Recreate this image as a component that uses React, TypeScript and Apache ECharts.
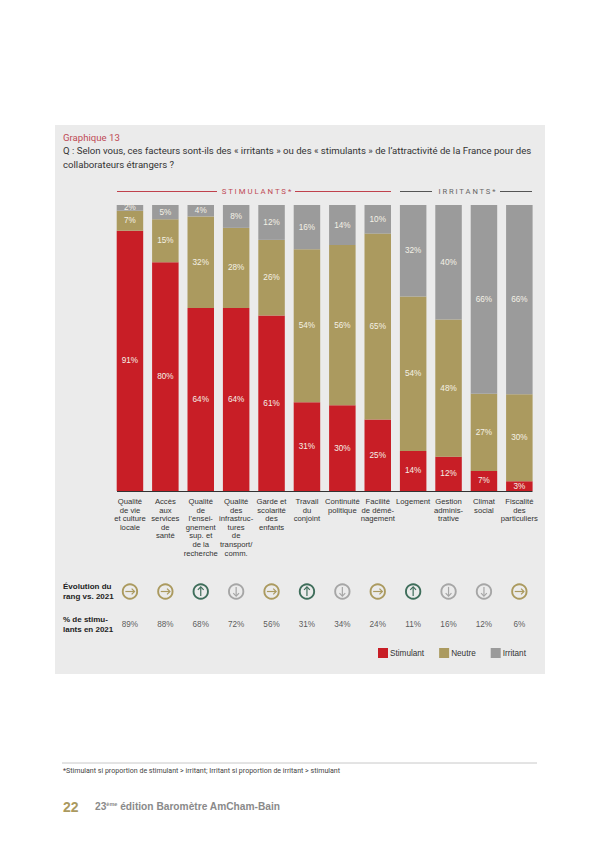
import React, { useEffect, useRef } from "react";
import * as echarts from "echarts";

const categories = [
  "Qualité\nde vie\net culture\nlocale",
  "Accès\naux\nservices\nde\nsanté",
  "Qualité\nde\nl’ensei-\ngnement\nsup. et\nde la\nrecherche",
  "Qualité\ndes\ninfrastruc-\ntures\nde\ntransport/\ncomm.",
  "Garde et\nscolarité\ndes\nenfants",
  "Travail\ndu\nconjoint",
  "Continuité\npolitique",
  "Facilité\nde démé-\nnagement",
  "Logement",
  "Gestion\nadminis-\ntrative",
  "Climat\nsocial",
  "Fiscalité\ndes\nparticuliers",
];
const stimulant = [91, 80, 64, 64, 61.4, 31, 30, 25, 14, 12, 7, 3.4];
const neutre = [7, 15, 32, 28, 26.4, 53.5, 56, 65, 54, 48, 27, 30.4];
const irritant = [2, 5, 4, 8, 12.2, 15.5, 14, 10, 32, 40, 66, 66.2];
const evolution = ["right", "right", "up", "down", "right", "up", "down", "right", "up", "down", "down", "right"];
const stimulants2021 = [89, 88, 68, 72, 56, 31, 34, 24, 11, 16, 12, 6];

const RED = "#c81e26";
const GOLD = "#ab9a5f";
const GRAY = "#9b9b9b";
const GREEN = "#3f6e5b";
const ICON_GRAY = "#a6a6a6";
const SANS = "'Liberation Sans', Arial, sans-serif";
const HEAD = "Roboto, 'Noto Sans', sans-serif";

const barLabel = {
  show: true,
  position: "inside" as const,
  color: "#f4f1e6",
  textBorderWidth: 0,
  fontFamily: SANS,
  fontSize: 8.2,
  formatter: (p: any) => `${Math.round(p.value)}%`,
};

function renderIcon(params: any, api: any) {
  const p = api.coord([api.value(0), "evo"]);
  const dir = evolution[params.dataIndex];
  const color = dir === "up" ? GREEN : dir === "down" ? ICON_GRAY : GOLD;
  const s = 4.6;
  const h = 2.9;
  const pts =
    dir === "right"
      ? { shaft: [[-s, 0], [s, 0]], head: [[s - h, -h], [s, 0], [s - h, h]] }
      : dir === "up"
      ? { shaft: [[0, s], [0, -s]], head: [[-h, -s + h], [0, -s], [h, -s + h]] }
      : { shaft: [[0, -s], [0, s]], head: [[-h, s - h], [0, s], [h, s - h]] };
  return {
    type: "group",
    x: p[0],
    y: p[1],
    children: [
      { type: "circle", shape: { cx: 0, cy: 0, r: 7.2 }, style: { fill: "none", stroke: color, lineWidth: 1.9 } },
      { type: "polyline", shape: { points: pts.shaft }, style: { fill: "none", stroke: color, lineWidth: 1.2 } },
      { type: "polyline", shape: { points: pts.head }, style: { fill: "none", stroke: color, lineWidth: 1.2 } },
    ],
  };
}

const lineStyle = (color: string) => ({ stroke: color, lineWidth: 1 });

export default function App() {
  const ref = useRef<HTMLDivElement>(null);
  useEffect(() => {
    const chart = echarts.init(ref.current!, undefined, { renderer: "svg" });
    chart.setOption({
      animation: false,
      backgroundColor: "#ffffff",
      legend: {
        left: 374,
        top: 645,
        padding: [3, 4],
        itemWidth: 10,
        itemHeight: 10,
        itemGap: 15,
        icon: "rect",
        data: ["Stimulant", "Neutre", "Irritant"],
        textStyle: { fontFamily: SANS, fontSize: 8.2, color: "#333", padding: [0, 0, 0, -3] },
      },
      grid: [
        { left: 112.25, top: 205, width: 424.8, height: 286 },
        { left: 112.25, top: 575, width: 424.8, height: 66 },
      ],
      xAxis: [
        {
          type: "category",
          gridIndex: 0,
          data: categories,
          axisLine: { show: false },
          axisTick: { show: false },
          axisLabel: {
            interval: 0,
            margin: 6.5,
            fontFamily: SANS,
            fontSize: 7.7,
            lineHeight: 8.55,
            color: "#333",
            verticalAlign: "top",
          },
        },
        { type: "category", gridIndex: 1, data: categories, show: false },
      ],
      yAxis: [
        { type: "value", gridIndex: 0, min: 0, max: 100, show: false },
        { type: "category", gridIndex: 1, data: ["pct", "evo"], show: false },
      ],
      series: [
        {
          name: "Stimulant",
          type: "bar",
          stack: "t",
          barWidth: 26.5,
          data: stimulant,
          itemStyle: { color: RED },
          label: barLabel,
        },
        { name: "Neutre", type: "bar", stack: "t", data: neutre, itemStyle: { color: GOLD }, label: barLabel },
        { name: "Irritant", type: "bar", stack: "t", data: irritant, itemStyle: { color: GRAY }, label: barLabel },
        {
          type: "custom",
          xAxisIndex: 1,
          yAxisIndex: 1,
          data: evolution.map((_, i) => [i]),
          renderItem: renderIcon,
          silent: true,
        },
        {
          type: "scatter",
          xAxisIndex: 1,
          yAxisIndex: 1,
          symbolSize: 0,
          data: stimulants2021.map((v, i) => [i, "pct", v]),
          label: {
            show: true,
            position: "inside",
            formatter: (p: any) => `${p.value[2]}%`,
            fontFamily: SANS,
            fontSize: 8.2,
            color: "#333",
            textBorderWidth: 0,
          },
        },
      ],
      graphic: [
        { type: "rect", z: -10, shape: { x: 55, y: 125, width: 490, height: 549 }, style: { fill: "#ebebeb" } },
        { type: "text", x: 63, y: 132, style: { text: "Graphique 13", fill: "#bf4a55", font: `9.6px ${HEAD}` } },
        {
          type: "text",
          x: 63,
          y: 143,
          style: {
            text: "Q : Selon vous, ces facteurs sont-ils des « irritants » ou des « stimulants » de l’attractivité de la France pour des\ncollaborateurs étrangers ?",
            fill: "#333",
            font: `9.6px ${HEAD}`,
            lineHeight: 14.5,
          },
        },
        { type: "line", shape: { x1: 117, y1: 191.5, x2: 217, y2: 191.5 }, style: lineStyle("#c0414c") },
        { type: "line", shape: { x1: 295, y1: 191.5, x2: 391, y2: 191.5 }, style: lineStyle("#c0414c") },
        { type: "line", shape: { x1: 400, y1: 191.5, x2: 432, y2: 191.5 }, style: lineStyle("#555") },
        { type: "line", shape: { x1: 500, y1: 191.5, x2: 532, y2: 191.5 }, style: lineStyle("#555") },
        {
          type: "text",
          x: 256.5,
          y: 191.5,
          style: { text: "S T I M U L A N T S *", fill: "#bf4a55", font: `7.8px ${HEAD}`, align: "center", verticalAlign: "middle" },
        },
        {
          type: "text",
          x: 467,
          y: 191.5,
          style: { text: "I R R I T A N T S *", fill: "#666", font: `7.6px ${HEAD}`, align: "center", verticalAlign: "middle" },
        },
        { type: "line", z: 5, shape: { x1: 117, y1: 491.5, x2: 532.5, y2: 491.5 }, style: { stroke: "#333", lineWidth: 1 } },
        {
          type: "text",
          x: 63,
          y: 581,
          style: { text: "Évolution du\nrang vs. 2021", fill: "#222", font: `bold 8px ${SANS}`, lineHeight: 10 },
        },
        {
          type: "text",
          x: 63,
          y: 614,
          style: { text: "% de stimu-\nlants en 2021", fill: "#222", font: `bold 8px ${SANS}`, lineHeight: 10 },
        },
        { type: "line", shape: { x1: 62, y1: 763, x2: 537, y2: 763 }, style: { stroke: "#c8c8c8", lineWidth: 1 } },
        {
          type: "text",
          x: 63,
          y: 767,
          style: { text: "*Stimulant si proportion de stimulant > irritant; Irritant si proportion de irritant > stimulant", fill: "#444", font: `7.05px ${HEAD}` },
        },
        { type: "text", x: 63, y: 800, style: { text: "22", fill: GOLD, font: `bold 14px ${SANS}` } },
        {
          type: "text",
          x: 95,
          y: 801,
          style: {
            text: "23{sup|ème} édition Baromètre AmCham-Bain",
            fill: "#8a8a8a",
            font: `bold 10.2px ${SANS}`,
            rich: { sup: { fontSize: 5.5, fontWeight: "bold", fontFamily: SANS, fill: "#8a8a8a", verticalAlign: "top", color: "#8a8a8a" } },
          },
        },
      ],
    });
    return () => chart.dispose();
  }, []);
  return <div ref={ref} style={{ position: "absolute", left: 0, top: 0, width: 600, height: 848 }} />;
}
